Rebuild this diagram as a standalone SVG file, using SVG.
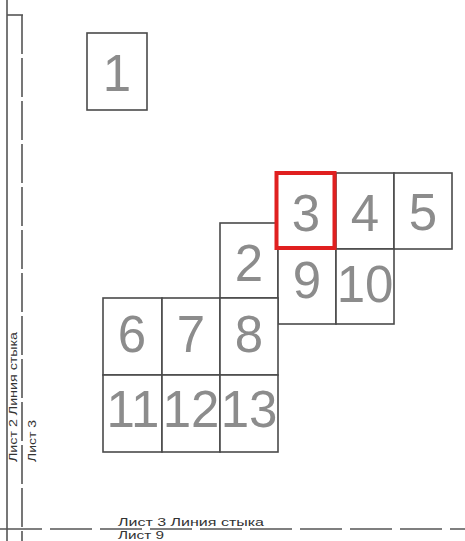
<svg xmlns="http://www.w3.org/2000/svg" width="465" height="541" viewBox="0 0 465 541">
<style>
.cell{fill:#fff;stroke:#4a4a4a;stroke-width:1.6}
.red{fill:none;stroke:#e02020;stroke-width:4}
.num{font-family:"Liberation Sans",Arial,sans-serif;font-size:51px;fill:#8c8c8c;text-anchor:middle}
.lbl{font-family:"Liberation Sans",Arial,sans-serif;font-size:11px;fill:#333}
.ln{stroke:#555;stroke-width:1.6;fill:none}
</style>
<rect width="465" height="541" fill="#fff"/>
<g id="frame">
<line class="ln" x1="7" y1="0" x2="7" y2="541"/>
<line class="ln" x1="7" y1="15" x2="23" y2="15"/>
<line class="ln" x1="22" y1="15" x2="22" y2="541" stroke-dasharray="39 4"/>
<line class="ln" x1="0" y1="529" x2="465" y2="529" stroke-dasharray="42 8"/>
<text class="lbl" transform="translate(17,462) rotate(-90)" textLength="130" lengthAdjust="spacingAndGlyphs">Лист 2 Линия стыка</text>
<text class="lbl" transform="translate(36,462) rotate(-90)" textLength="42" lengthAdjust="spacingAndGlyphs">Лист 3</text>
<text class="lbl" x="118" y="526" textLength="146" lengthAdjust="spacingAndGlyphs">Лист 3 Линия стыка</text>
<text class="lbl" x="118" y="539" font-size="10" textLength="46" lengthAdjust="spacingAndGlyphs">Лист 9</text>
</g>
<g id="node-1"><rect class="cell" x="87" y="33" width="60" height="77"/><text class="num" x="117" y="91" font-size="40">1</text></g>
<g id="node-4"><rect class="cell" x="336" y="173" width="58" height="76"/><text class="num" x="365" y="231">4</text></g>
<g id="node-5"><rect class="cell" x="394" y="173" width="58" height="76"/><text class="num" x="423" y="230">5</text></g>
<g id="node-2"><rect class="cell" x="220" y="223" width="58" height="75"/><text class="num" x="249" y="281">2</text></g>
<g id="node-9"><rect class="cell" x="278" y="249" width="58" height="75"/><text class="num" x="307" y="298">9</text></g>
<g id="node-10"><rect class="cell" x="336" y="249" width="58" height="75"/><text class="num" x="365" y="302">10</text></g>
<g id="node-6"><rect class="cell" x="103" y="298" width="59" height="77"/><text class="num" x="132" y="352">6</text></g>
<g id="node-7"><rect class="cell" x="162" y="298" width="58" height="77"/><text class="num" x="191" y="352">7</text></g>
<g id="node-8"><rect class="cell" x="220" y="298" width="58" height="77"/><text class="num" x="249" y="352">8</text></g>
<g id="node-11"><rect class="cell" x="103" y="375" width="59" height="77"/><text class="num" x="133" y="427">11</text></g>
<g id="node-12"><rect class="cell" x="162" y="375" width="58" height="77"/><text class="num" x="191" y="427">12</text></g>
<g id="node-13"><rect class="cell" x="220" y="375" width="58" height="77"/><text class="num" x="249" y="427">13</text></g>
<g id="node-3"><rect class="cell" x="276.5" y="173" width="58" height="75" stroke="none"/><rect class="red" x="276.5" y="173" width="58" height="75"/><text class="num" x="306" y="231">3</text></g>
<g id="connectors"></g>
</svg>
